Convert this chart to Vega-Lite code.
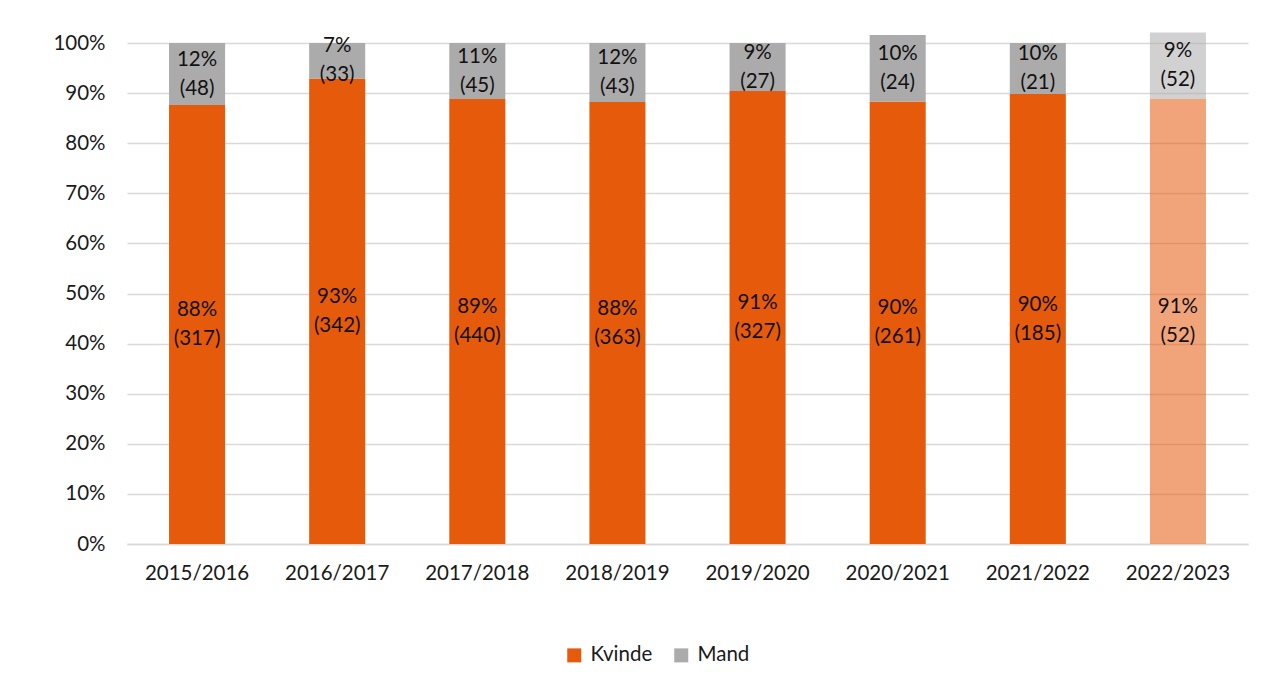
{
  "$schema": "https://vega.github.io/schema/vega-lite/v6.json",
  "width": 1121,
  "height": 501,
  "autosize": {"type": "none"},
  "padding": {"left": 127, "top": 43, "right": 36, "bottom": 142},
  "background": "white",
  "config": {
    "font": "Lato",
    "view": {"stroke": null}
  },
  "data": {
    "values": [
      {"year": "2015/2016", "sex": "Kvinde", "value": 87.6, "label": "88%", "n": 317, "proj": false},
      {"year": "2015/2016", "sex": "Mand", "value": 12.4, "label": "12%", "n": 48, "proj": false},
      {"year": "2016/2017", "sex": "Kvinde", "value": 92.9, "label": "93%", "n": 342, "proj": false},
      {"year": "2016/2017", "sex": "Mand", "value": 7.1, "label": "7%", "n": 33, "proj": false},
      {"year": "2017/2018", "sex": "Kvinde", "value": 88.8, "label": "89%", "n": 440, "proj": false},
      {"year": "2017/2018", "sex": "Mand", "value": 11.2, "label": "11%", "n": 45, "proj": false},
      {"year": "2018/2019", "sex": "Kvinde", "value": 88.2, "label": "88%", "n": 363, "proj": false},
      {"year": "2018/2019", "sex": "Mand", "value": 11.8, "label": "12%", "n": 43, "proj": false},
      {"year": "2019/2020", "sex": "Kvinde", "value": 90.4, "label": "91%", "n": 327, "proj": false},
      {"year": "2019/2020", "sex": "Mand", "value": 9.6, "label": "9%", "n": 27, "proj": false},
      {"year": "2020/2021", "sex": "Kvinde", "value": 88.3, "label": "90%", "n": 261, "proj": false},
      {"year": "2020/2021", "sex": "Mand", "value": 13.3, "label": "10%", "n": 24, "proj": false},
      {"year": "2021/2022", "sex": "Kvinde", "value": 89.8, "label": "90%", "n": 185, "proj": false},
      {"year": "2021/2022", "sex": "Mand", "value": 10.2, "label": "10%", "n": 21, "proj": false},
      {"year": "2022/2023", "sex": "Kvinde", "value": 88.8, "label": "91%", "n": 52, "proj": true},
      {"year": "2022/2023", "sex": "Mand", "value": 13.3, "label": "9%", "n": 52, "proj": true}
    ]
  },
  "transform": [
    {"stack": "value", "groupby": ["year"], "sort": [{"field": "sex", "order": "ascending"}], "as": ["v0", "v1"]},
    {"calculate": "(datum.v0 + datum.v1) / 2", "as": "mid"},
    {"calculate": "datum.label + '\\n(' + datum.n + ')'", "as": "txt"}
  ],
  "encoding": {
    "x": {
      "field": "year",
      "type": "nominal",
      "sort": null,
      "scale": {"paddingInner": 0.6, "paddingOuter": 0.3},
      "axis": {
        "title": null,
        "labelAngle": 0,
        "labelFontSize": 20.5,
        "labelColor": "#1a1a1a",
        "labelPadding": 19,
        "ticks": false,
        "domainColor": "#d9d9d9",
        "domainWidth": 1.5
      }
    }
  },
  "layer": [
    {
      "mark": {"type": "bar"},
      "encoding": {
        "y": {
          "field": "v0",
          "type": "quantitative",
          "scale": {"domain": [0, 100], "nice": false},
          "axis": {
            "title": null,
            "values": [0, 10, 20, 30, 40, 50, 60, 70, 80, 90, 100],
            "labelExpr": "datum.value + '%'",
            "labelFontSize": 20.5,
            "labelColor": "#1a1a1a",
            "labelPadding": 22,
            "ticks": false,
            "domain": false,
            "gridColor": "#d9d9d9",
            "gridWidth": 1.5
          }
        },
        "y2": {"field": "v1"},
        "color": {
          "field": "sex",
          "type": "nominal",
          "scale": {"domain": ["Kvinde", "Mand"], "range": ["#E65A0C", "#ABABAB"]},
          "legend": {
            "title": null,
            "orient": "none",
            "legendX": 437,
            "legendY": 602,
            "direction": "horizontal",
            "symbolType": "square",
            "symbolSize": 196,
            "symbolStrokeWidth": 0,
            "labelFontSize": 20.5,
            "labelColor": "#1a1a1a",
            "columnPadding": 18,
            "labelOffset": 6
          }
        },
        "opacity": {"condition": {"test": "datum.proj", "value": 0.55}, "value": 1}
      }
    },
    {
      "mark": {"type": "text", "fontSize": 20.5, "lineBreak": "\n", "lineHeight": 29, "baseline": "middle", "dy": -14.5, "color": "#111111"},
      "encoding": {
        "y": {"field": "mid", "type": "quantitative"},
        "text": {"field": "txt"}
      }
    }
  ]
}
